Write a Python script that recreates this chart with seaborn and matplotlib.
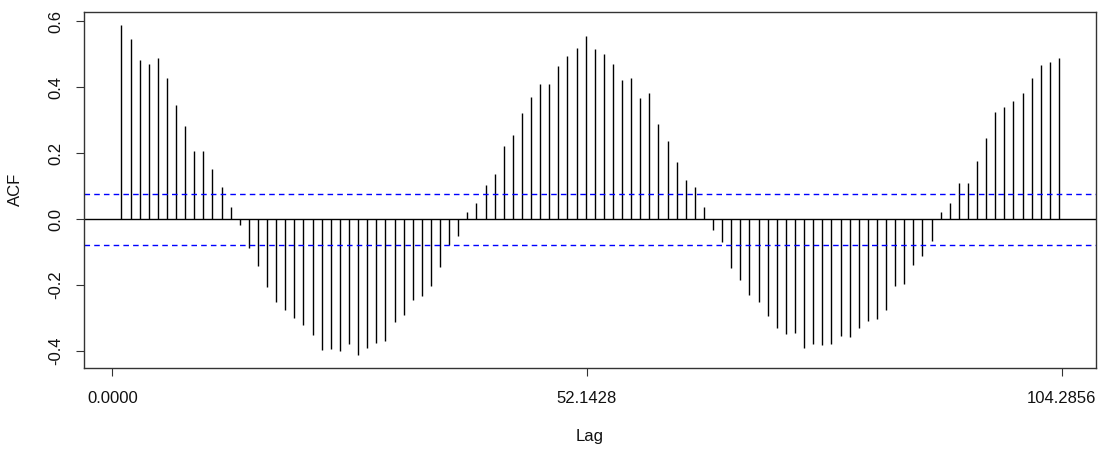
import numpy as np
import pandas as pd
import matplotlib
matplotlib.use("Agg")
import matplotlib.pyplot as plt
import seaborn as sns

lags = list(range(1, 105))
acf_values = [
    0.589, 0.545, 0.483, 0.471, 0.489, 0.427, 0.345, 0.283, 0.205, 0.205,
    0.152, 0.098, 0.038, -0.017, -0.086, -0.143, -0.205, -0.250, -0.274, -0.299,
    -0.320, -0.352, -0.396, -0.393, -0.399, -0.377, -0.412, -0.389, -0.374, -0.368,
    -0.312, -0.289, -0.246, -0.233, -0.201, -0.146, -0.078, -0.051, 0.023, 0.048,
    0.104, 0.136, 0.221, 0.254, 0.323, 0.370, 0.408, 0.408, 0.464, 0.493,
    0.518, 0.555, 0.515, 0.500, 0.471, 0.420, 0.427, 0.367, 0.383, 0.289,
    0.236, 0.174, 0.120, 0.098, 0.036, -0.032, -0.070, -0.149, -0.183, -0.231,
    -0.250, -0.292, -0.330, -0.349, -0.344, -0.389, -0.377, -0.380, -0.377, -0.353,
    -0.356, -0.330, -0.308, -0.302, -0.274, -0.202, -0.196, -0.139, -0.111, -0.067,
    0.023, 0.048, 0.108, 0.111, 0.177, 0.246, 0.324, 0.339, 0.358, 0.383,
    0.427, 0.468, 0.477, 0.487,
]
conf_bound = 0.077
x_ticks = [0.0, 52.1428, 104.2856]
x_tick_labels = ["0.0000", "52.1428", "104.2856"]
y_ticks = [-0.4, -0.2, 0.0, 0.2, 0.4, 0.6]
y_tick_labels = ["-0.4", "-0.2", "0.0", "0.2", "0.4", "0.6"]

df = pd.DataFrame({"lag": lags, "acf": acf_values})

sns.set_theme(style="white")
plt.rcParams["font.family"] = ["Liberation Sans", "DejaVu Sans"]

fig = plt.figure(figsize=(11, 4.5), dpi=100)
ax = fig.add_axes([84.3 / 1100, 1 - 367.7 / 450, (1096 - 84.3) / 1100, (367.7 - 11.5) / 450])

ax.vlines(df["lag"], 0, df["acf"], colors="black", linewidth=1.0)
ax.axhline(0, color="black", linewidth=1.0)
ax.axhline(conf_bound, color="#0000ff", linewidth=1.0, linestyle=(0, (4, 3)))
ax.axhline(-conf_bound, color="#0000ff", linewidth=1.0, linestyle=(0, (4, 3)))

ax.set_xlim(-3.08, 108.07)
ax.set_ylim(-0.450, 0.629)

ax.set_xticks(x_ticks)
ax.set_xticklabels(x_tick_labels, fontsize=12)
ax.set_yticks(y_ticks)
ax.set_yticklabels(y_tick_labels, fontsize=12, rotation=90, va="center")
ax.tick_params(axis="both", which="major", direction="out", length=6, width=0.8,
               color="#333333", bottom=True, left=True, labelcolor="#111111")
ax.tick_params(axis="x", pad=11)
ax.tick_params(axis="y", pad=9)

for s in ax.spines.values():
    s.set_visible(True)
    s.set_color("#333333")
    s.set_linewidth(1.0)

ax.set_xlabel("Lag", fontsize=12, color="#111111")
ax.set_ylabel("ACF", fontsize=12, color="#111111")
ax.xaxis.set_label_coords((590 - 84.3) / 1011.7, (367.7 - 437) / 356.2)
ax.xaxis.label.set_va("center")
ax.yaxis.set_label_coords((15 - 84.3) / 1011.7, 0.5)
ax.yaxis.label.set_va("center")

fig.savefig("out.png", dpi=100, facecolor="white")
